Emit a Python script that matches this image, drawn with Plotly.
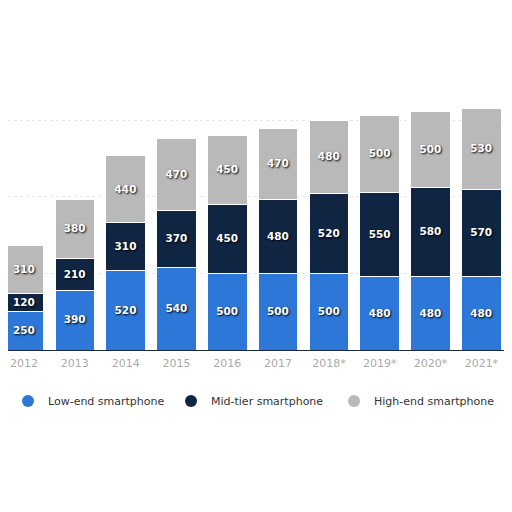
import plotly.graph_objects as go

years = ["2012", "2013", "2014", "2015", "2016", "2017", "2018*", "2019*", "2020*", "2021*"]
low_end = [250, 390, 520, 540, 500, 500, 500, 480, 480, 480]
mid_tier = [120, 210, 310, 370, 450, 480, 520, 550, 580, 570]
high_end = [310, 380, 440, 470, 450, 470, 480, 500, 500, 530]

series = [
    ("Low-end smartphone", low_end, "#2d77d9"),
    ("Mid-tier smartphone", mid_tier, "#0f2541"),
    ("High-end smartphone", high_end, "#b9b9b9"),
]

xpos = list(range(len(years)))

fig = go.Figure()
for name, vals, color in series:
    fig.add_trace(go.Bar(
        x=xpos, y=vals, name=name, showlegend=False,
        marker=dict(color=color, line=dict(color="white", width=1)),
        text=[str(v) for v in vals],
        textposition="inside",
        insidetextanchor="middle",
        textangle=0,
        textfont=dict(family="DejaVu Sans", size=11, color="white", weight="bold",
                      shadow="1px 1px 2px #000000"),
        width=0.78,
        cliponaxis=False,
    ))

# legend entries with round markers
for name, vals, color in series:
    fig.add_trace(go.Scatter(
        x=[None], y=[None], mode="markers", name=name,
        marker=dict(color=color, size=12, symbol="circle"),
    ))

fig.update_layout(
    barmode="stack",
    width=512, height=512,
    margin=dict(l=0, r=0, t=94, b=170, autoexpand=False),
    paper_bgcolor="white",
    plot_bgcolor="white",
    font=dict(family="DejaVu Sans", size=11, color="#333333"),
    showlegend=True,
    legend=dict(orientation="h", x=0.0, y=-0.206, xanchor="left", yanchor="middle",
                font=dict(size=11, color="#333333"),
                entrywidth=118, entrywidthmode="pixels",
                traceorder="normal"),
    uniformtext=dict(minsize=8, mode="show"),
)
fig.update_xaxes(
    tickmode="array", tickvals=xpos, ticktext=years,
    range=[-0.315, 9.76], showgrid=False,
    showline=True, linecolor="#1a2a3a", linewidth=1,
    tickfont=dict(color="#aaaaaa", size=11), ticks="",
    ticklabelstandoff=3, ticklabeloverflow="allow",
)
fig.update_yaxes(
    range=[0, 1620], showticklabels=False,
    showgrid=True, gridcolor="#e6e6e6", griddash="dot", dtick=500,
    zeroline=False,
)

fig.write_html("out.html")
